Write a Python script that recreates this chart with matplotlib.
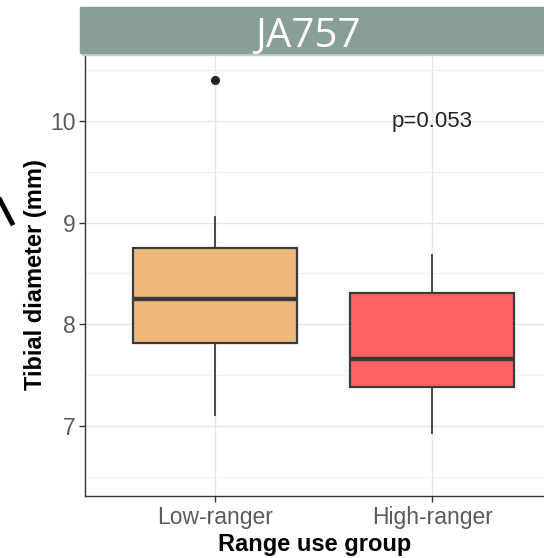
import matplotlib.pyplot as plt
from matplotlib.patches import Rectangle
from matplotlib.lines import Line2D

groups = ['Low-ranger', 'High-ranger']
q1 = [7.82, 7.38]
medians = [8.25, 7.66]
q3 = [8.75, 8.31]
whisker_low = [7.11, 6.93]
whisker_high = [9.06, 8.68]
outliers = [[10.40], []]
fill_colors = ['#EFB97B', '#FF6262']
p_label = 'p=0.053'
panel_title = 'JA757'

plt.rcParams['font.family'] = ['Liberation Sans', 'DejaVu Sans']

fig = plt.figure(figsize=(5.44, 5.58), dpi=100)
ax = fig.add_axes([85 / 544, 1 - 496 / 558, 1 - 85 / 544, (496 - 53) / 558])

stats = []
for i, g in enumerate(groups):
    stats.append({'label': g, 'q1': q1[i], 'med': medians[i], 'q3': q3[i],
                  'whislo': whisker_low[i], 'whishi': whisker_high[i],
                  'fliers': outliers[i]})

edge = '#3a3a3a'
bp = ax.bxp(stats, positions=[1, 2], widths=0.755, patch_artist=True,
            showcaps=False,
            boxprops=dict(edgecolor=edge, linewidth=1.6),
            medianprops=dict(color=edge, linewidth=3.2),
            whiskerprops=dict(color=edge, linewidth=1.3),
            flierprops=dict(marker='o', markerfacecolor='#222222',
                            markeredgecolor='#222222', markersize=5.5))
for patch, c in zip(bp['boxes'], fill_colors):
    patch.set_facecolor(c)
    patch.set_zorder(3)
for m in bp['medians']:
    m.set_zorder(4)

ax.text(2, 10, p_label, ha='center', va='center', fontsize=16, color='#222222')

ax.set_xlim(0.4, 2.516)
ax.set_ylim(6.31, 10.67)
ax.set_yticks([7, 8, 9, 10])
ax.set_yticks([6.5, 7.5, 8.5, 9.5, 10.5], minor=True)
ax.set_xticks([1, 2])
ax.set_xticklabels(groups)
ax.grid(True, which='major', color='#e6e6e6', linewidth=1.0)
ax.grid(True, which='minor', axis='y', color='#f0f0f0', linewidth=0.8)
ax.set_axisbelow(True)
ax.tick_params(axis='both', which='major', labelsize=16.5, labelcolor='#5a5a5a',
               color='#333333', length=4, width=1, pad=3)
ax.tick_params(axis='y', which='minor', length=0)
for s in ['top', 'right']:
    ax.spines[s].set_visible(False)
for s in ['left', 'bottom']:
    ax.spines[s].set_color('#333333')
    ax.spines[s].set_linewidth(1.0)

ax.set_xlabel('Range use group', fontsize=17, fontweight='bold', labelpad=3)
ax.set_ylabel('Tibial diameter (mm)', fontsize=17, fontweight='bold', labelpad=2)

# banner with title
fig.patches.append(Rectangle((82 / 544, 1 - 55 / 558), 1, 47 / 558,
                             transform=fig.transFigure, color='#c8cfcc', zorder=9))
fig.patches.append(Rectangle((80 / 544, 1 - 53 / 558), 1, 46 / 558,
                             transform=fig.transFigure, color='#8A9E98', zorder=10))
fig.text(308 / 544, 1 - 47 / 558, panel_title, ha='center', va='baseline',
         fontsize=29, color='white', family=['Open Sans', 'DejaVu Sans'], zorder=11)

# arrow fragment at the left edge
fig.lines.append(Line2D([0, 12 / 544], [1 - 200 / 558, 1 - 223 / 558],
                        transform=fig.transFigure, color='black', linewidth=3.5))

fig.savefig('out.png', dpi=100)
